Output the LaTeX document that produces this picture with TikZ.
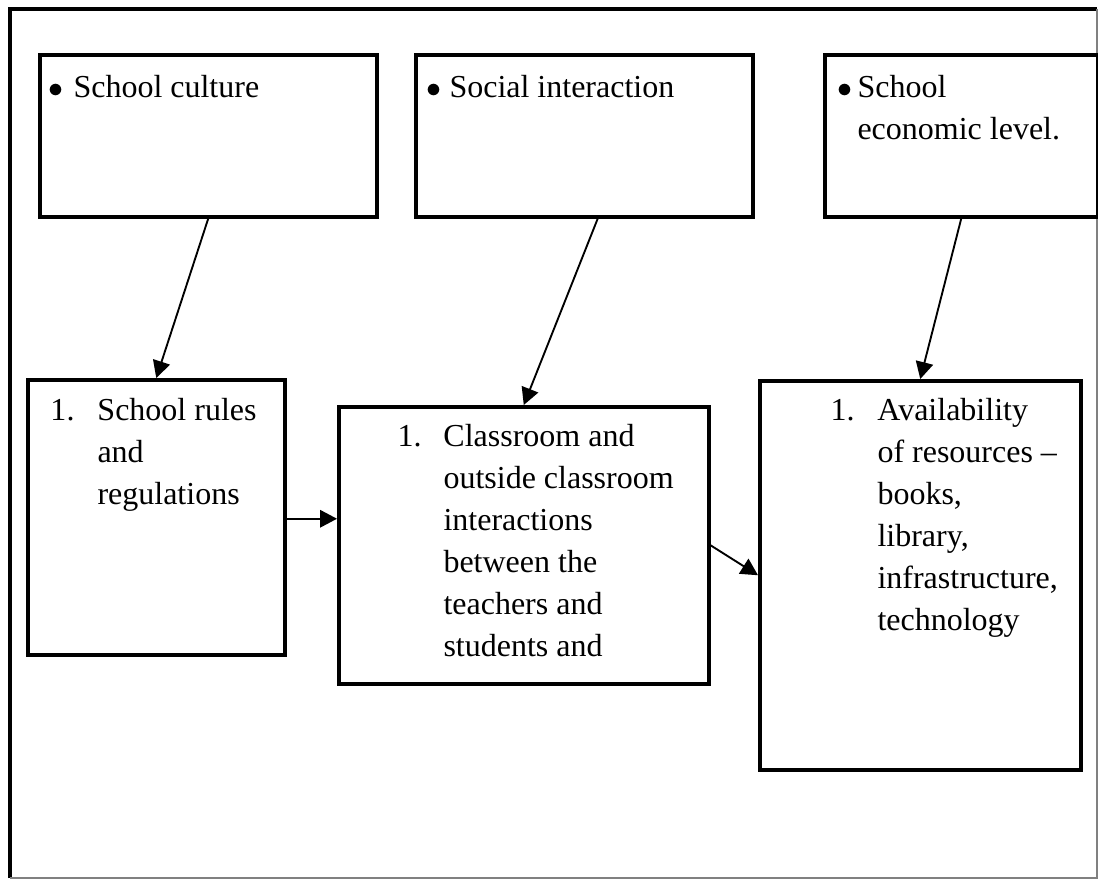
\documentclass[tikz,border=0pt]{standalone}
\usepackage{fontspec}
\setmainfont{Liberation Serif}
\usepackage{tikz}
\usetikzlibrary{arrows.meta}

% one entry of a list: mark, gap to the text, lines of the text
\newcommand{\entry}[3]{\makebox[#2][l]{#1}\parbox[t]{5cm}{#3}}

\tikzset{
  factor/.style={draw,line width=1.4pt,anchor=north west,inner sep=0pt},
  entrytext/.style={anchor=base west,inner sep=0pt,
    font=\fontsize{12.8}{16.8}\selectfont},
  link/.style={-{Triangle[length=6.8pt,width=7pt]},line width=.75pt}
}

\begin{document}
\begin{tikzpicture}[x=.4pt,y=-.4pt]
\useasboundingbox (0,0) rectangle (1098,880);
%
% marco
\draw[line width=1.6pt] (10,878) -- (10,8.5) -- (1097,8.5);
\draw[gray,line width=.6pt] (1097,8.5) -- (1097,878) -- (10,878);
%
% cajas de arriba
\node[factor,minimum width=134.8pt,minimum height=64.8pt] (culture) at (38,53) {};
\node[factor,minimum width=134.8pt,minimum height=64.8pt] (social) at (414,53) {};
\node[factor,minimum width=109.2pt,minimum height=64.8pt] (economic) at (823,53) {};
\node[entrytext] (culture-txt) at (48,97) {\entry{$\bullet$}{10pt}{School culture}};
\node[entrytext] (social-txt) at (426,97) {\entry{$\bullet$}{9.2pt}{Social interaction}};
\node[entrytext] (economic-txt) at (837,97) {\entry{$\bullet$}{8pt}{School\\economic level.}};
%
% cajas de abajo
\node[factor,minimum width=102.8pt,minimum height=110pt] (rules) at (26,378) {};
\node[factor,minimum width=148pt,minimum height=110.8pt] (classroom) at (337,405) {};
\node[factor,minimum width=128.4pt,minimum height=155.6pt] (resources) at (758,379) {};
\node[entrytext] (rules-txt) at (50,420) {\entry{1.}{18.8pt}{School rules\\and\\regulations}};
\node[entrytext] (classroom-txt) at (397,446) {\entry{1.}{18.4pt}{Classroom and\\outside classroom\\interactions\\between the\\teachers and\\students and}};
\node[entrytext] (resources-txt) at (830,420) {\entry{1.}{18.8pt}{Availability\\of resources --\\books,\\library,\\infrastructure,\\technology}};
%
% flechas
\draw[link] (culture.south) -- (rules.north);
\draw[link] ([xshift=5.4pt]social.south) -- (classroom.north);
\draw[link] (economic.south) -- (resources.north);
\draw[link] ([yshift=-.6pt]rules.east) -- ([yshift=-.6pt]rules.east -| classroom.west);
\draw[link] (classroom.east) -- (resources.west);
\end{tikzpicture}
\end{document}
